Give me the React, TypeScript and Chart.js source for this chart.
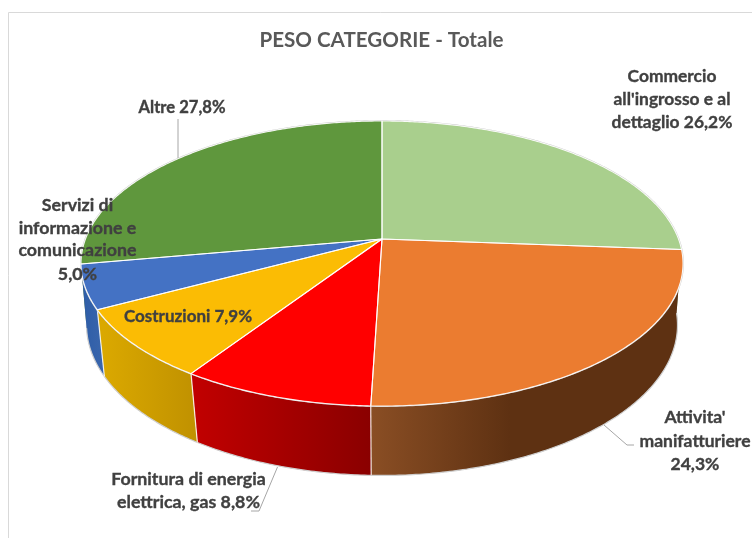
import React, { useEffect, useRef } from "react";
import { Chart, registerables } from "chart.js";

Chart.register(...registerables);

const categories = [
  "Commercio all'ingrosso e al dettaglio",
  "Attivita' manifatturiere",
  "Fornitura di energia elettrica, gas",
  "Costruzioni",
  "Servizi di informazione e comunicazione",
  "Altre",
];
const shares = [26.2, 24.3, 8.8, 7.9, 5.0, 27.8];
const topColors = ["#a9cf8d", "#eb7c30", "#ff0000", "#fbbc04", "#4472c4", "#5f973d"];
const wallStops: [number, number, string, string][] = [
  [500, 680, "#7d9a68", "#6f8a5c"],
  [371, 510, "#8a4e24", "#5e3112"],
  [197, 371, "#c00000", "#8a0000"],
  [104, 197, "#daa800", "#c09100"],
  [85, 104, "#2f5ea8", "#3a66ac"],
  [80, 90, "#4a7030", "#4a7030"],
];
const labelLines = [
  ["Commercio", "all'ingrosso e al", "dettaglio 26,2%"],
  ["Attivita'", "manifatturiere", "24,3%"],
  ["Fornitura di energia", "elettrica, gas 8,8%"],
  ["Costruzioni 7,9%"],
  ["Servizi di", "informazione e", "comunicazione", "5,0%"],
  ["Altre 27,8%"],
];
const labelBoxes: [number, number[]][] = [
  [672, [76, 99, 122]],
  [695, [417, 441, 464]],
  [188.5, [479, 502]],
  [188, [317]],
  [77.5, [205, 228, 250, 274]],
  [182, [108]],
];
const labelSizes = [17.4, 17.5, 17.8, 17, 17.8, 16.6];
const leaders: [number, number][][] = [
  [[178, 119], [178, 158]],
  [[604, 425], [627, 445], [634, 445]],
  [[277.5, 467], [259, 511], [251, 511]],
];

const TOP = { x0: 382, y0: 239, a: 296.5, b: 138.3, q: 0.172 };
const LOW = { x0: 382, y0: 301.9, a: 292, b: 147, q: 0.153 };

function project(p: typeof TOP, angle: number): [number, number] {
  const u = Math.cos(angle);
  const v = Math.sin(angle);
  const w = 1 - p.q * v;
  return [p.x0 + (p.a * u) / w, p.y0 + (p.b * v) / w];
}

function rim(p: typeof TOP, start: number, end: number): [number, number][] {
  const n = Math.max(2, Math.ceil(Math.abs(end - start) / 0.01));
  const out: [number, number][] = [];
  for (let i = 0; i <= n; i++) out.push(project(p, start + ((end - start) * i) / n));
  return out;
}

function trace(ctx: CanvasRenderingContext2D, pts: [number, number][], move = true) {
  pts.forEach(([x, y], i) => {
    if (i === 0 && move) ctx.moveTo(x, y);
    else ctx.lineTo(x, y);
  });
}

const pie3d = {
  id: "pie3d",
  beforeDatasetDraw(chart: any) {
    const ctx: CanvasRenderingContext2D = chart.ctx;
    const arcs = chart.getDatasetMeta(0).data;
    const angs = arcs.map((el: any) => [el.startAngle, el.endAngle]);
    const loLim = 0.05;
    const hiLim = Math.PI - 0.05;
    ctx.save();
    ctx.lineJoin = "round";

    // side walls, only the near half of the disc shows
    const order = [5, 0, 1, 2, 3, 4];
    order.forEach((i) => {
      const s = Math.max(angs[i][0], loLim);
      const e = Math.min(angs[i][1], hiLim);
      if (e <= s) return;
      const upper = rim(TOP, s, e);
      const lower = rim(LOW, e, s);
      const [gx0, gx1, c0, c1] = wallStops[i];
      const g = ctx.createLinearGradient(gx0, 0, gx1, 0);
      g.addColorStop(0, c0);
      g.addColorStop(1, c1);
      ctx.beginPath();
      trace(ctx, upper);
      trace(ctx, lower, false);
      ctx.closePath();
      ctx.fillStyle = g;
      ctx.fill();
      ctx.beginPath();
      trace(ctx, lower);
      ctx.strokeStyle = "#cfcfcf";
      ctx.lineWidth = 1.2;
      ctx.stroke();
    });
    // separators on the walls
    [2, 3, 4].forEach((i) => {
      const a = project(TOP, angs[i][0]);
      const b = project(LOW, angs[i][0]);
      ctx.beginPath();
      ctx.moveTo(a[0], a[1]);
      ctx.lineTo(b[0], b[1]);
      ctx.strokeStyle = "rgba(255,255,255,0.85)";
      ctx.lineWidth = 1.2;
      ctx.stroke();
    });

    // outer halo of the top face
    ctx.beginPath();
    trace(ctx, rim(TOP, angs[0][0], angs[angs.length - 1][1]));
    ctx.closePath();
    ctx.strokeStyle = "#cbcbcb";
    ctx.lineWidth = 1.8;
    ctx.stroke();

    // top faces
    angs.forEach(([s, e]: number[], i: number) => {
      ctx.beginPath();
      ctx.moveTo(TOP.x0, TOP.y0);
      trace(ctx, rim(TOP, s, e), false);
      ctx.closePath();
      ctx.fillStyle = topColors[i];
      ctx.fill();
    });
    angs.forEach(([s, e]: number[]) => {
      ctx.beginPath();
      ctx.moveTo(TOP.x0, TOP.y0);
      trace(ctx, rim(TOP, s, e), false);
      ctx.closePath();
      ctx.strokeStyle = "rgba(255,255,255,0.9)";
      ctx.lineWidth = 1.1;
      ctx.stroke();
    });
    ctx.restore();
    return false;
  },
  afterDraw(chart: any) {
    const ctx: CanvasRenderingContext2D = chart.ctx;
    ctx.save();
    // chart frame
    ctx.strokeStyle = "#d9d9d9";
    ctx.lineWidth = 1;
    ctx.beginPath();
    ctx.moveTo(8.5, 538);
    ctx.lineTo(8.5, 12.5);
    ctx.lineTo(752, 12.5);
    ctx.stroke();
    // leader lines
    ctx.strokeStyle = "#a6a6a6";
    leaders.forEach((l) => {
      ctx.beginPath();
      trace(ctx, l);
      ctx.stroke();
    });
    // data labels
    ctx.fillStyle = "#404040";
    ctx.strokeStyle = "#404040";
    ctx.lineWidth = 0.35;
    ctx.textAlign = "center";
    ctx.textBaseline = "middle";
    labelLines.forEach((lines, i) => {
      const [x, ys] = labelBoxes[i];
      ctx.font = `bold ${labelSizes[i]}px Lato`;
      lines.forEach((t, j) => {
        ctx.fillText(t, x, ys[j]);
        ctx.strokeText(t, x, ys[j]);
      });
    });
    ctx.restore();
  },
};

export default function App() {
  const ref = useRef<HTMLCanvasElement>(null);
  useEffect(() => {
    document.body.style.margin = "0";
    const chart = new Chart(ref.current as HTMLCanvasElement, {
      type: "pie",
      data: {
        labels: categories,
        datasets: [{ data: shares, backgroundColor: topColors, borderWidth: 0 }],
      },
      plugins: [pie3d],
      options: {
        responsive: false,
        animation: false,
        layout: { padding: { left: 11 } },
        plugins: {
          legend: { display: false },
          tooltip: { enabled: false },
          title: {
            display: true,
            text: "PESO CATEGORIE - Totale",
            color: "#595959",
            font: { family: "Lato", weight: "bold", size: 20.6 },
            padding: { top: 28, bottom: 10 },
          },
        },
      },
    } as any);
    return () => chart.destroy();
  }, []);
  return <canvas ref={ref} width={752} height={538} style={{ display: "block" }} />;
}
